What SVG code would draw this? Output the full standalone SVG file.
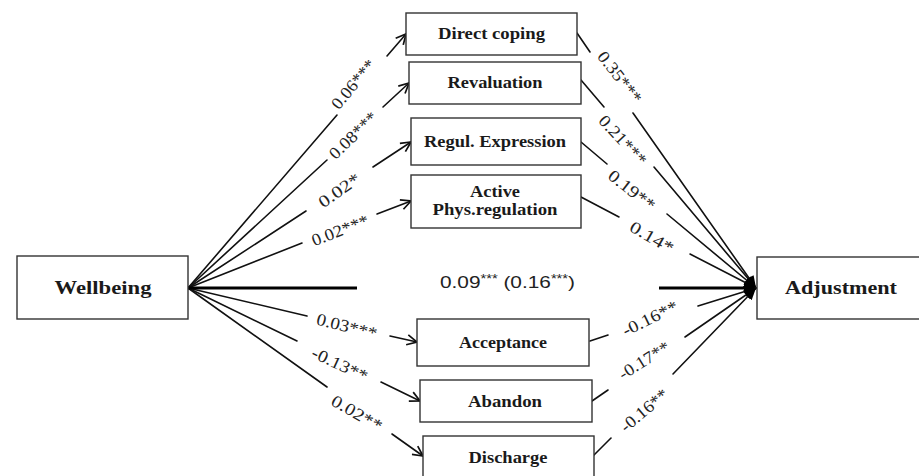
<svg xmlns="http://www.w3.org/2000/svg" width="919" height="476" viewBox="0 0 919 476">
<style>
.box{fill:#fff;stroke:#333;stroke-width:1.4}
.bt{font-family:"Liberation Serif","Times New Roman",serif;font-weight:bold;font-size:16px;fill:#1a1a1a;text-anchor:middle}
.big{font-size:19px}
.ln{stroke:#111;stroke-width:1.6;fill:none;stroke-linecap:round}
.thick{stroke:#000;stroke-width:3.2;fill:none}
.lb{font-family:"Liberation Serif","Times New Roman",serif;font-size:17px;fill:#222;text-anchor:middle}
.cl{font-family:"Liberation Sans",Arial,sans-serif;font-size:17px;fill:#222}
</style>
<defs>
<marker id="ah" viewBox="0 0 12 12" refX="11" refY="6" markerWidth="12" markerHeight="12" markerUnits="userSpaceOnUse" orient="auto">
<path d="M1,1 L11,6 L1,11" fill="none" stroke="#111" stroke-width="1.7" stroke-linejoin="miter"/>
</marker>
<marker id="ahf" viewBox="0 0 12 12" refX="11" refY="6" markerWidth="13" markerHeight="13" markerUnits="userSpaceOnUse" orient="auto">
<path d="M0,1 L11,6 L0,11 Z" fill="#000"/>
</marker>
</defs>
<rect width="919" height="476" fill="#fff"/>
<g id="connectors">
<line class="ln" x1="188" y1="288" x2="337" y2="115"/>
<line class="ln" x1="387" y1="56" x2="406" y2="34" marker-end="url(#ah)"/>
<line class="ln" x1="188" y1="288" x2="327" y2="160"/>
<line class="ln" x1="383" y1="107" x2="409" y2="83" marker-end="url(#ah)"/>
<line class="ln" x1="188" y1="288" x2="306" y2="211"/>
<line class="ln" x1="373" y1="167" x2="411" y2="142" marker-end="url(#ah)"/>
<line class="ln" x1="188" y1="288" x2="302" y2="243"/>
<line class="ln" x1="377" y1="214" x2="411" y2="201" marker-end="url(#ah)"/>
<line class="ln" x1="188" y1="288" x2="307" y2="316"/>
<line class="ln" x1="390" y1="336" x2="417" y2="342" marker-end="url(#ah)"/>
<line class="ln" x1="188" y1="288" x2="297" y2="341"/>
<line class="ln" x1="381" y1="382" x2="420" y2="401" marker-end="url(#ah)"/>
<line class="ln" x1="188" y1="288" x2="327" y2="387"/>
<line class="ln" x1="392" y1="434" x2="423" y2="456" marker-end="url(#ah)"/>
<line class="thick" x1="188" y1="288" x2="357" y2="288"/>
<line class="thick" x1="659" y1="288" x2="756" y2="288" marker-end="url(#ahf)"/>
<line class="ln" x1="577" y1="33" x2="590" y2="52"/>
<line class="ln" x1="633" y1="113" x2="756" y2="288" marker-end="url(#ahf)"/>
<line class="ln" x1="581" y1="80" x2="604" y2="107"/>
<line class="ln" x1="654" y1="167" x2="756" y2="288" marker-end="url(#ahf)"/>
<line class="ln" x1="581" y1="142" x2="607" y2="164"/>
<line class="ln" x1="667" y1="214" x2="756" y2="288" marker-end="url(#ahf)"/>
<line class="ln" x1="581" y1="197" x2="619" y2="217"/>
<line class="ln" x1="690" y1="254" x2="756" y2="288" marker-end="url(#ahf)"/>
<line class="ln" x1="590" y1="341" x2="608" y2="335"/>
<line class="ln" x1="698" y1="306" x2="756" y2="288" marker-end="url(#ahf)"/>
<line class="ln" x1="592" y1="401" x2="608" y2="390"/>
<line class="ln" x1="685" y1="337" x2="756" y2="288" marker-end="url(#ahf)"/>
<line class="ln" x1="593" y1="456" x2="611" y2="438"/>
<line class="ln" x1="673" y1="374" x2="756" y2="288" marker-end="url(#ahf)"/>
<text class="lb" transform="translate(353,84) rotate(-50)" y="6" textLength="59" lengthAdjust="spacingAndGlyphs">0.06***</text>
<text class="lb" transform="translate(353,135) rotate(-44)" y="6" textLength="60" lengthAdjust="spacingAndGlyphs">0.08***</text>
<text class="lb" transform="translate(339,190) rotate(-35)" y="6" textLength="47" lengthAdjust="spacingAndGlyphs">0.02*</text>
<text class="lb" transform="translate(340,230) rotate(-21)" y="6" textLength="60" lengthAdjust="spacingAndGlyphs">0.02***</text>
<text class="lb" transform="translate(347,326) rotate(14)" y="6" textLength="62" lengthAdjust="spacingAndGlyphs">0.03***</text>
<text class="lb" transform="translate(340,364) rotate(25)" y="6" textLength="60" lengthAdjust="spacingAndGlyphs">-0.13**</text>
<text class="lb" transform="translate(357,413) rotate(30)" y="6" textLength="56" lengthAdjust="spacingAndGlyphs">0.02**</text>
<text class="lb" transform="translate(620,77) rotate(52)" y="6" textLength="61" lengthAdjust="spacingAndGlyphs">0.35***</text>
<text class="lb" transform="translate(623,140) rotate(47)" y="6" textLength="62" lengthAdjust="spacingAndGlyphs">0.21***</text>
<text class="lb" transform="translate(632,190) rotate(38)" y="6" textLength="55" lengthAdjust="spacingAndGlyphs">0.19**</text>
<text class="lb" transform="translate(652,237) rotate(30)" y="6" textLength="48" lengthAdjust="spacingAndGlyphs">0.14*</text>
<text class="lb" transform="translate(650,318) rotate(-26)" y="6" textLength="60" lengthAdjust="spacingAndGlyphs">-0.16**</text>
<text class="lb" transform="translate(644,360) rotate(-32)" y="6" textLength="57" lengthAdjust="spacingAndGlyphs">-0.17**</text>
<text class="lb" transform="translate(644,410) rotate(-40)" y="6" textLength="57" lengthAdjust="spacingAndGlyphs">-0.16**</text>
<text class="cl" x="440" y="288" textLength="135" lengthAdjust="spacingAndGlyphs">0.09<tspan font-size="12" dy="-5">***</tspan><tspan dy="5"> (0.16</tspan><tspan font-size="12" dy="-5">***</tspan><tspan dy="5">)</tspan></text>
</g>
<g id="wellbeing"><rect class="box" x="17" y="256" width="171" height="63"/><text class="bt big" x="103" y="294" textLength="97" lengthAdjust="spacingAndGlyphs">Wellbeing</text></g>
<g id="adjustment"><rect class="box" x="757" y="257" width="170" height="62"/><text class="bt big" x="841" y="294" textLength="112" lengthAdjust="spacingAndGlyphs">Adjustment</text></g>
<g id="direct-coping"><rect class="box" x="406" y="13" width="171" height="42"/><text class="bt" x="491.5" y="39" textLength="107" lengthAdjust="spacingAndGlyphs">Direct coping</text></g>
<g id="revaluation"><rect class="box" x="409" y="62" width="172" height="42"/><text class="bt" x="495" y="88" textLength="95" lengthAdjust="spacingAndGlyphs">Revaluation</text></g>
<g id="regul-expression"><rect class="box" x="411" y="118" width="170" height="47"/><text class="bt" x="495" y="147" textLength="142" lengthAdjust="spacingAndGlyphs">Regul. Expression</text></g>
<g id="active-phys"><rect class="box" x="411" y="175" width="170" height="53"/><text class="bt" x="495" y="197" textLength="50" lengthAdjust="spacingAndGlyphs">Active</text><text class="bt" x="495" y="215" textLength="125" lengthAdjust="spacingAndGlyphs">Phys.regulation</text></g>
<g id="acceptance"><rect class="box" x="417" y="319" width="172" height="47"/><text class="bt" x="503" y="348" textLength="88" lengthAdjust="spacingAndGlyphs">Acceptance</text></g>
<g id="abandon"><rect class="box" x="420" y="380" width="172" height="42"/><text class="bt" x="505" y="407" textLength="74" lengthAdjust="spacingAndGlyphs">Abandon</text></g>
<g id="discharge"><rect class="box" x="423" y="436" width="171" height="50"/><text class="bt" x="508" y="463" textLength="79" lengthAdjust="spacingAndGlyphs">Discharge</text></g>
</svg>
